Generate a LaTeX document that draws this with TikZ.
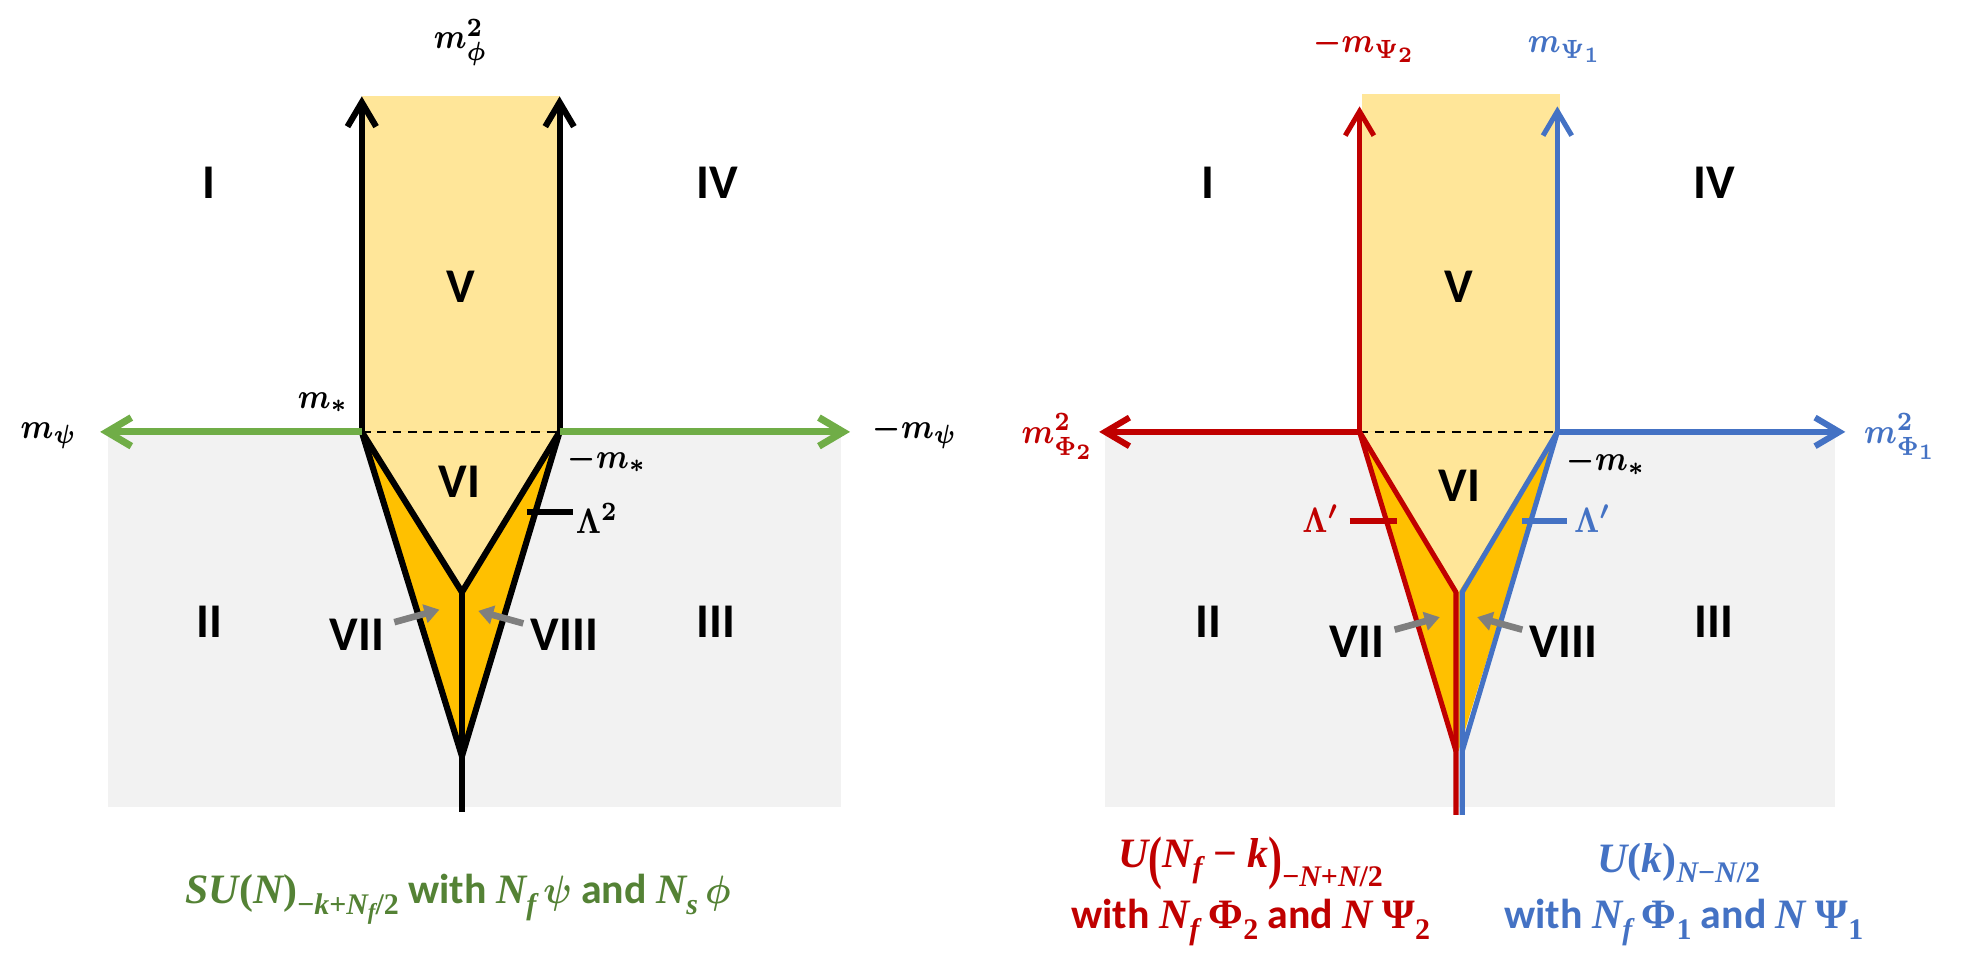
\documentclass[tikz,border=0pt]{standalone}
\usepackage{amsmath}
\usepackage{graphicx}
\usepackage{fontspec}
\setmainfont{Carlito}
\newfontfamily\lsf{Liberation Serif}
\usepackage{bm}
\usetikzlibrary{arrows.meta}
\definecolor{yel}{HTML}{FFE699}
\definecolor{org}{HTML}{FFC000}
\definecolor{bgc}{HTML}{F2F2F2}
\definecolor{grn}{HTML}{70AD47}
\definecolor{dgrn}{HTML}{548235}
\definecolor{redc}{HTML}{C00000}
\definecolor{bluc}{HTML}{4472C4}
\definecolor{gryc}{HTML}{7F7F7F}
\newcommand{\lmath}[1]{\scalebox{0.84}[1]{$#1$}}
\newcommand{\vi}[1]{{\lsf\bfseries\itshape #1}}
\newcommand{\vu}[1]{{\lsf\bfseries #1}}
\newcommand{\sbx}[1]{\raisebox{-0.5ex}{\fontsize{6.8}{7}\selectfont #1}}
\newcommand{\ssbx}[1]{\raisebox{-0.35ex}{\fontsize{5.2}{6}\selectfont #1}}
\newcommand{\gk}[1]{\scalebox{0.88}[1]{$#1$}}
\newcommand{\tallp}[1]{\raisebox{-0.5ex}{\scalebox{1}[1.4]{\vu{#1}}}}
\begin{document}
\begin{tikzpicture}[x=0.01cm,y=-0.01cm,
  reg/.style={font=\fontsize{11}{13}\selectfont\bfseries, inner sep=0pt},
  mlab/.style={font=\fontsize{8.5}{10}\selectfont\boldmath, inner sep=0pt, anchor=base},
  captxt/.style={font=\fontsize{9.5}{11}\selectfont\bfseries\boldmath, inner sep=0pt, anchor=base},
  blk/.style={line width=1.4pt, line join=round},
  rl/.style={line width=1.15pt, line join=round, draw=redc},
  bl/.style={line width=1.15pt, line join=round, draw=bluc},
  tipb/.style={-{Straight Barb[length=5.5pt,width=6.5pt]}},
  dsh/.style={line width=0.6pt, dash pattern=on 2pt off 1.5pt},
  garr/.style={draw=gryc, line width=1.5pt, -{Triangle[length=3.4pt,width=4.2pt]}},
  tickmark/.style={line width=1.4pt}
]
\useasboundingbox (0,0) rectangle (1568,774);

% ---------------- left panel ----------------
\fill[bgc] (86,346) rectangle (672,645);
\fill[yel] (289,77) rectangle (447,346);
\coordinate (L1) at (289,345);
\coordinate (L2) at (447,345);
\coordinate (LI) at (369,473);
\coordinate (LA) at (369,604);
\coordinate (LB) at (369,649);
\coordinate (LT1) at (289,77);
\coordinate (LT2) at (447,77);
\coordinate (LG1) at (80,345);
\coordinate (LG2) at (679,345);
\fill[org] (L1)--(LA)--(L2)--cycle;
\fill[yel] (L1)--(LI)--(L2)--cycle;
\draw[dsh] (L1)--(L2);
\draw[blk] (L1)--(LA)--(L2);
\draw[blk] (L1)--(LI)--(L2);
\draw[blk] (LI)--(LB);
\draw[blk,tipb] (L1)--(LT1);
\draw[blk,tipb] (L2)--(LT2);
\draw[line width=1.6pt,draw=grn,tipb] (L1)--(LG1);
\draw[line width=1.6pt,draw=grn,tipb] (L2)--(LG2);
\coordinate (LK1) at (421,409);
\coordinate (LK2) at (458,409);
\draw[tickmark] (LK1)--(LK2);

\node[reg] (lI) at (167,146) {I};
\node[reg] (lIV) at (573,146) {IV};
\node[reg] (lV) at (368,229) {V};
\node[reg] (lVI) at (367,385) {VI};
\node[reg] (lII) at (167,497) {II};
\node[reg] (lVII) at (285,507) {VII};
\node[reg] (lVIII) at (451,507) {VIII};
\node[reg] (lIII) at (572,497) {III};

\coordinate (la1s) at (315,497); \coordinate (la1e) at (351,487);
\coordinate (la2s) at (418,498); \coordinate (la2e) at (382,488);
\draw[garr] (la1s)--(la1e);
\draw[garr] (la2s)--(la2e);

\node[mlab] (lphi) at (368,39) {\lmath{m_{\phi}^{2}}};
\node[mlab] (lmpsi) at (39,350) {\lmath{m_{\psi}}};
\node[mlab] (lnmpsi) at (731,350) {\lmath{-m_{\psi}}};
\node[mlab] (lms) at (258,326) {\lmath{m_{*}}};
\node[mlab] (lnms) at (485,374) {\lmath{-m_{*}}};
\node[mlab] (llam) at (477,426) {\lmath{\Lambda^{2}}};

\node[captxt,text=dgrn] (lcap) at (366,722) {\vi{SU}\vu{(}\vi{N}\vu{)}\sbx{\vu{−}\vi{k}\vu{+}\vi{N}\ssbx{\vi{f}}\vu{/2}} with \vi{N}\sbx{\vi{f}}\,\gk{\psi} and \vi{N}\sbx{\vi{s}}\,\gk{\phi}};

% ---------------- right panel ----------------
\fill[bgc] (883,346) rectangle (1466,645);
\fill[yel] (1088,75) rectangle (1246,346);
\coordinate (R1) at (1086,345);
\coordinate (R2) at (1244,345);
\coordinate (RI) at (1165,473);
\coordinate (RA) at (1165,600);
\coordinate (RIl) at (1163,473);
\coordinate (RIr) at (1168,473);
\coordinate (RAl) at (1163,600);
\coordinate (RAr) at (1168,600);
\coordinate (RBl) at (1163,651);
\coordinate (RBr) at (1168,651);
\coordinate (RT1) at (1086,85);
\coordinate (RT2) at (1244,85);
\coordinate (RG1) at (878,345);
\coordinate (RG2) at (1474,345);
\fill[org] (R1)--(RA)--(R2)--cycle;
\fill[yel] (R1)--(RI)--(R2)--cycle;
\draw[dsh] (R1)--(R2);
\draw[rl] (R1)--(RAl);
\draw[rl] (R1)--(RIl)--(RBl);
\draw[bl] (R2)--(RAr);
\draw[bl] (R2)--(RIr)--(RBr);
\draw[rl,tipb] (R1)--(RT1);
\draw[rl,line width=1.4pt,tipb] (R1)--(RG1);
\draw[bl,tipb] (R2)--(RT2);
\draw[bl,line width=1.4pt,tipb] (R2)--(RG2);
\coordinate (RK1) at (1078,416); \coordinate (RK2) at (1116,416);
\coordinate (RK3) at (1216,416); \coordinate (RK4) at (1252,416);
\draw[tickmark,draw=redc] (RK1)--(RK2);
\draw[tickmark,draw=bluc] (RK3)--(RK4);

\node[reg] (rI) at (965,146) {I};
\node[reg] (rIV) at (1369,146) {IV};
\node[reg] (rV) at (1165,229) {V};
\node[reg] (rVI) at (1166,388) {VI};
\node[reg] (rII) at (965,497) {II};
\node[reg] (rVII) at (1084,513) {VII};
\node[reg] (rVIII) at (1249,513) {VIII};
\node[reg] (rIII) at (1369,497) {III};

\coordinate (ra1s) at (1114,503); \coordinate (ra1e) at (1150,493);
\coordinate (ra2s) at (1216,503); \coordinate (ra2e) at (1180,493);
\draw[garr] (ra1s)--(ra1e);
\draw[garr] (ra2s)--(ra2e);

\node[mlab,text=redc] (rpsi2) at (1090,42) {\lmath{-m_{\Psi_2}}};
\node[mlab,text=bluc] (rpsi1) at (1250,42) {\lmath{m_{\Psi_1}}};
\node[mlab,text=redc] (rphi2) at (845,354) {\lmath{m_{\Phi_2}^{2}}};
\node[mlab,text=bluc] (rphi1) at (1518,354) {\lmath{m_{\Phi_1}^{2}}};
\node[mlab] (rnms) at (1283,376) {\lmath{-m_{*}}};
\node[mlab,text=redc] (rlam1) at (1055,425) {\lmath{\Lambda'}};
\node[mlab,text=bluc] (rlam2) at (1272,425) {\lmath{\Lambda'}};

\node[captxt,text=redc] (rcap1) at (999,693) {\vi{U}\tallp{(}\vi{N}\sbx{\vi{f}}\hspace{0.25em}\vu{−}\hspace{0.25em}\vi{k}\tallp{)}\raisebox{-0.95ex}{\fontsize{6.8}{7}\selectfont\vu{−}\vi{N}\vu{+}\vi{N}\vu{/2}}};
\node[captxt,text=redc] (rcap2) at (999,742) {with \vi{N}\sbx{\vi{f}} \vu{Φ}\sbx{\vu{2}} and \vi{N} \vu{Ψ}\sbx{\vu{2}}};
\node[captxt,text=bluc] (rcap3) at (1341,697) {\vi{U}\vu{(}\vi{k}\vu{)}\sbx{\vi{N}\vu{−}\vi{N}\vu{/2}}};
\node[captxt,text=bluc] (rcap4) at (1345,742) {with \vi{N}\sbx{\vi{f}} \vu{Φ}\sbx{\vu{1}} and \vi{N} \vu{Ψ}\sbx{\vu{1}}};
\end{tikzpicture}
\end{document}
